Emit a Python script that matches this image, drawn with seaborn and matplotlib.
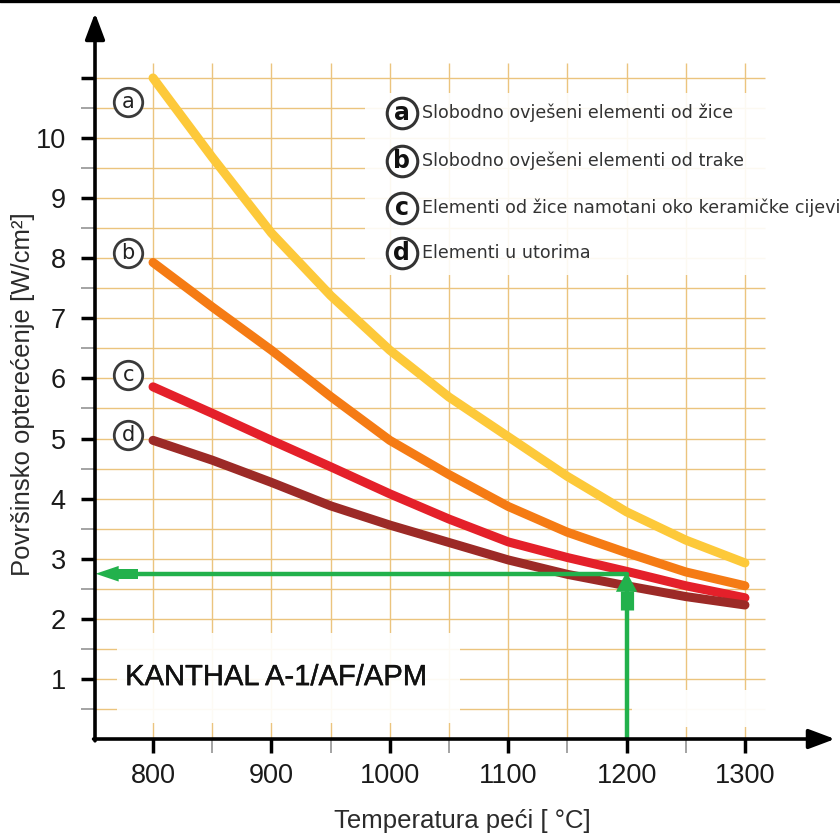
import numpy as np
import pandas as pd
import matplotlib
matplotlib.use("Agg")
import matplotlib.pyplot as plt
import matplotlib.patheffects as pe
from matplotlib.lines import Line2D
from matplotlib.patches import Rectangle, Polygon
import seaborn as sns

# surface load [W/cm2] at each furnace temperature
temperatures = [800, 850, 900, 950, 1000, 1050, 1100, 1150, 1200, 1250, 1300]
load_a = [11.0, 9.68, 8.42, 7.38, 6.47, 5.69, 5.03, 4.37, 3.78, 3.31, 2.93]
load_b = [7.93, 7.19, 6.47, 5.70, 4.97, 4.40, 3.87, 3.44, 3.10, 2.78, 2.55]
load_c = [5.86, 5.42, 4.97, 4.53, 4.08, 3.66, 3.28, 3.02, 2.79, 2.55, 2.35]
load_d = [4.97, 4.64, 4.27, 3.88, 3.56, 3.27, 2.98, 2.74, 2.55, 2.37, 2.23]

series_keys = ['a', 'b', 'c', 'd']
series_labels = [
    'Slobodno ovješeni elementi od žice',
    'Slobodno ovješeni elementi od trake',
    'Elementi od žice namotani oko keramičke cijevi',
    'Elementi u utorima',
]
series_colors = ['#FDC93A', '#F57B14', '#E4202A', '#9C2A27']

x_ticks = [800, 900, 1000, 1100, 1200, 1300]
y_ticks = [1, 2, 3, 4, 5, 6, 7, 8, 9, 10, 11]
y_tick_labels = ['1', '2', '3', '4', '5', '6', '7', '8', '9', '10', '']

# worked example shown with the green arrows
example_temp = 1200
example_load = 2.75

title_text = 'KANTHAL A-1/AF/APM'
x_label = 'Temperatura peći [ °C]'
y_label = 'Površinsko opterećenje [W/cm²]'

df = pd.DataFrame({
    'temp': temperatures * 4,
    'load': load_a + load_b + load_c + load_d,
    'key': np.repeat(series_keys, len(temperatures)),
})

sns.set_theme(style='white')
plt.rcParams['font.family'] = ['Liberation Sans', 'DejaVu Sans']

grid_color = '#EBC47E'
green = '#22B14C'

fig = plt.figure(figsize=(8.4, 8.34), dpi=100)
ax = fig.add_axes([0.1131, 0.1139, 0.8865, 0.8755])
ax.set_xlim(751, 1380)
ax.set_ylim(0, 12.15)
for s in ax.spines.values():
    s.set_visible(False)

# paper grid
ax.hlines(np.arange(0.5, 11.01, 0.5), 751, 1317, color=grid_color, lw=1.0, zorder=0)
ax.vlines(np.arange(800, 1301, 50), 0, 11.25, color=grid_color, lw=1.0, zorder=0)

# white patches over the grid
ax.add_patch(Rectangle((979, 7.72), 420, 3.03, fc='white', ec='none', alpha=0.9, zorder=1))
ax.add_patch(Rectangle((770, 0.27), 289, 1.49, fc='white', ec='none', alpha=0.92, zorder=1))
ax.add_patch(Rectangle((1205, 0.2), 115, 0.62, fc='white', ec='none', alpha=0.95, zorder=1))

sns.lineplot(data=df, x='temp', y='load', hue='key',
             palette=dict(zip(series_keys, series_colors)),
             estimator=None, linewidth=6.5, solid_capstyle='round',
             solid_joinstyle='round', legend=False, ax=ax, zorder=3)

# green arrows for the example reading
ax.plot([example_temp, 775], [example_load, example_load], color=green, lw=3.2, zorder=5)
ax.plot([770, 787], [example_load, example_load], color=green, lw=7.2,
        solid_capstyle='butt', zorder=5)
ax.add_patch(Polygon([[751.5, example_load], [771, example_load + 0.13], [771, example_load - 0.13]],
                     closed=True, fc=green, ec='none', zorder=5))
ax.plot([example_temp, example_temp], [0, 2.5], color=green, lw=3.2, zorder=5)
ax.plot([example_temp, example_temp], [2.15, 2.47], color=green, lw=9.5,
        solid_capstyle='butt', zorder=5)
ax.add_patch(Polygon([[example_temp, example_load + 0.03], [example_temp - 9, 2.45], [example_temp + 9, 2.45]],
                     closed=True, fc=green, ec='none', zorder=5))

# axes with arrow heads
ax.annotate('', xy=(751, 12.08), xytext=(751, -0.03),
            arrowprops=dict(arrowstyle='-|>,head_length=0.8,head_width=0.3', color='black',
                            lw=2.6, mutation_scale=20, shrinkA=0, shrinkB=0),
            annotation_clip=False, zorder=6)
ax.annotate('', xy=(1376, 0), xytext=(749.8, 0),
            arrowprops=dict(arrowstyle='-|>,head_length=0.8,head_width=0.3', color='black',
                            lw=2.6, mutation_scale=20, shrinkA=0, shrinkB=0),
            annotation_clip=False, zorder=6)

# ticks
ax.set_xticks(x_ticks)
ax.set_xticks([t + 50 for t in x_ticks[:-1]], minor=True)
ax.set_yticks(y_ticks)
ax.set_yticklabels(y_tick_labels)
ax.set_yticks([t - 0.5 for t in y_ticks], minor=True)
ax.tick_params(which='major', direction='out', length=10, width=2.5, color='black',
               labelsize=19.5, labelcolor='#1a1a1a', left=True, bottom=True)
ax.tick_params(which='minor', direction='out', length=10, width=1.1, color='#8a8a8a',
               left=True, bottom=True)
ax.tick_params(axis='x', which='major', pad=7)
ax.tick_params(axis='y', which='major', pad=11)

ax.set_xlabel(x_label, fontsize=18.5, color='#2b2b2b', va='baseline')
ax.xaxis.set_label_coords(0.494, -0.1218)
ax.set_ylabel(y_label, fontsize=18.5, color='#2b2b2b', va='center')
ax.yaxis.set_label_coords(-0.0967, 0.4725)

# circled letters next to curve starts
for key, ypos in zip(series_keys, [10.60, 8.09, 6.06, 5.06]):
    ax.plot([779], [ypos], 'o', ms=20.5, mfc='white', mec='#3a3a3a', mew=2.0, zorder=6)
    ax.text(779, ypos, key, ha='center', va='center', fontsize=15, color='#222222',
            family=['DejaVu Sans'], zorder=7)

# legend
for key, label, ypos in zip(series_keys, series_labels, [10.42, 9.62, 8.84, 8.09]):
    ax.plot([1010], [ypos], 'o', ms=22, mfc='white', mec='#333333', mew=2.2, zorder=6)
    ax.text(1010, ypos, key, ha='center', va='center', fontsize=17, fontweight='bold',
            color='#111111', family=['DejaVu Sans'], zorder=7)
    ax.text(1027, ypos, label, ha='left', va='center', fontsize=12.6, color='#333333',
            family=['DejaVu Sans'], zorder=7)

ax.text(776.4, 1.03, title_text, ha='left', va='center', fontsize=21, color='#111111', zorder=7,
        path_effects=[pe.withStroke(linewidth=0.3, foreground='#111111')])

fig.add_artist(Line2D([0, 1], [0.9984, 0.9984], transform=fig.transFigure, color='black', lw=2.4))

fig.savefig('out.png', dpi=100, facecolor='white')
